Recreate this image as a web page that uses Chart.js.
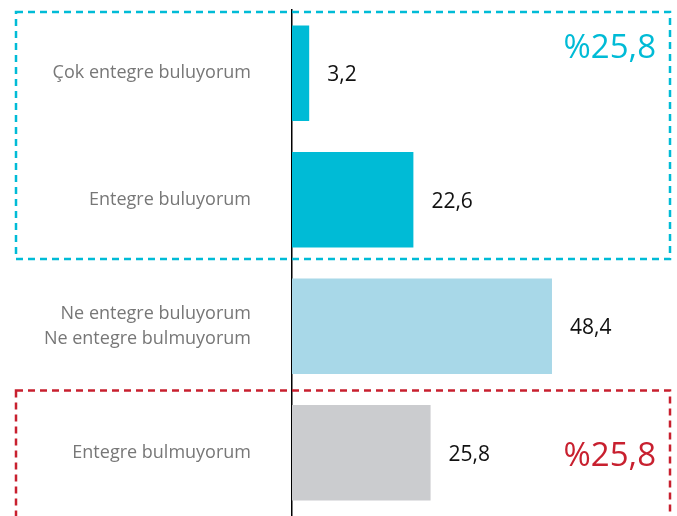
<!DOCTYPE html>
<html>
<head>
    <meta charset="utf-8">
    <title>Entegrasyon Algısı</title>
    <script src="https://cdn.jsdelivr.net/npm/chart.js"></script>
    <style>
        html, body { margin: 0; padding: 0; background: #fff; }
        #wrap { width: 677px; height: 516px; position: relative; }
    </style>
</head>
<body>
<div id="wrap"><canvas id="integrationChart"></canvas></div>
<script>
    // data
    var categories = [
        'Çok entegre buluyorum',
        'Entegre buluyorum',
        ['Ne entegre buluyorum', 'Ne entegre bulmuyorum'],
        'Entegre bulmuyorum'
    ];
    var values = [3.2, 22.6, 48.4, 25.8];
    var barColors = ['#00bbd6', '#00bbd6', '#a8d8e8', '#cbcccf'];
    // groups framed by dashed boxes: [first index, last index, colour]
    var groups = [
        [0, 1, '#00bbd6'],
        [3, 3, '#c8202f']
    ];

    function fmt(v) {
        return v.toFixed(1).replace('.', ',');
    }

    var fontFamily = '"Open Sans", "Noto Sans", sans-serif';

    // value labels, dashed boxes and the group totals
    var extrasPlugin = {
        id: 'extras',
        afterDatasetsDraw: function (chart) {
            var ctx = chart.ctx;
            var y = chart.scales.y;
            var meta = chart.getDatasetMeta(0);

            ctx.save();
            ctx.fillStyle = '#111';
            ctx.font = '21px ' + fontFamily;
            ctx.textAlign = 'left';
            ctx.textBaseline = 'middle';
            meta.data.forEach(function (bar, i) {
                ctx.fillText(fmt(values[i]), bar.x + 18, bar.y + 2);
            });

            groups.forEach(function (g) {
                var first = g[0], last = g[1];
                var step = y.getPixelForValue(1) - y.getPixelForValue(0);
                var top = first === 0 ? 12 : y.getPixelForValue(first) - step / 2 + 1;
                var bottom = last === categories.length - 1 ? chart.height + 10 : y.getPixelForValue(last) + step / 2 - 4;
                ctx.strokeStyle = g[2];
                ctx.lineWidth = 2.5;
                ctx.setLineDash([7, 5]);
                ctx.strokeRect(16, top, 654, bottom - top);

                var total = 0;
                for (var k = first; k <= last; k++) total += values[k];
                ctx.setLineDash([]);
                ctx.fillStyle = g[2];
                ctx.font = '33px ' + fontFamily;
                ctx.textAlign = 'right';
                ctx.textBaseline = 'middle';
                var ty = first === 0 ? 49 : y.getPixelForValue(first) + 4;
                ctx.fillText('%' + fmt(total), 656, ty);
            });
            ctx.restore();
        }
    };

    var ctx = document.getElementById('integrationChart').getContext('2d');
    var chart = new Chart(ctx, {
        type: 'bar',
        data: {
            labels: categories,
            datasets: [{
                data: values,
                backgroundColor: barColors,
                borderWidth: 0,
                barPercentage: 0.756,
                categoryPercentage: 1
            }]
        },
        options: {
            indexAxis: 'y',
            responsive: true,
            maintainAspectRatio: false,
            animation: false,
            layout: { padding: { top: 10, right: 9, bottom: 0, left: 0 } },
            plugins: {
                legend: { display: false },
                tooltip: { enabled: false }
            },
            scales: {
                x: {
                    display: false,
                    min: 0,
                    max: 70
                },
                y: {
                    grid: { display: false, drawTicks: false },
                    border: { display: true, color: '#000', width: 1.5 },
                    ticks: {
                        color: '#777',
                        padding: 41,
                        font: { family: fontFamily, size: 18, lineHeight: 1.4 }
                    },
                    afterFit: function (scale) {
                        scale.width = 292;
                        scale.paddingTop = 0;
                        scale.paddingBottom = 0;
                    }
                }
            }
        },
        plugins: [extrasPlugin]
    });
</script>
</body>
</html>
